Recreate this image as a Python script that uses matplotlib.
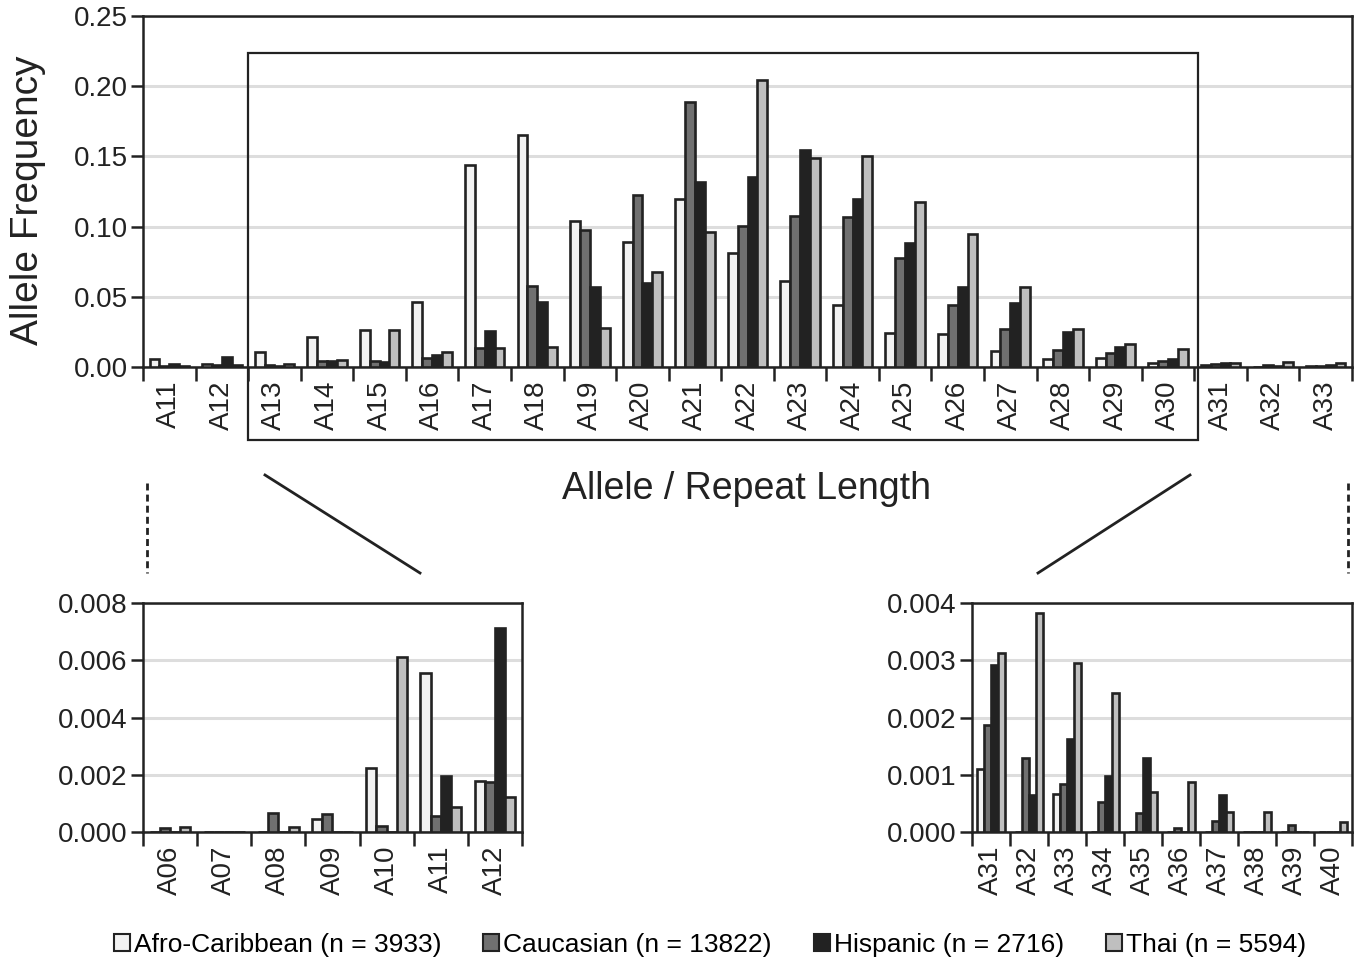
import matplotlib
matplotlib.use("Agg")
import matplotlib.pyplot as plt
import numpy as np
from matplotlib.patches import Rectangle, Patch
from matplotlib.lines import Line2D

plt.rcParams['font.family'] = ['Liberation Sans', 'DejaVu Sans']

# ---------------- data ----------------
series_names = ["Afro-Caribbean (n = 3933)", "Caucasian (n = 13822)",
                "Hispanic (n = 2716)", "Thai (n = 5594)"]
series_colors = ["#f2f2f2", "#707070", "#222222", "#bfbfbf"]

main_alleles = ["A11", "A12", "A13", "A14", "A15", "A16", "A17", "A18", "A19", "A20",
                "A21", "A22", "A23", "A24", "A25", "A26", "A27", "A28", "A29", "A30",
                "A31", "A32", "A33"]
afro_main = [0.0055, 0.0018, 0.0109, 0.0214, 0.026, 0.046, 0.1438, 0.165, 0.1039, 0.0887,
             0.1198, 0.0811, 0.0613, 0.0445, 0.024, 0.0233, 0.0114, 0.006, 0.0064, 0.003,
             0.0011, 0.0, 0.00067]
cauc_main = [0.0006, 0.0017, 0.0017, 0.004, 0.004, 0.0066, 0.0133, 0.0578, 0.0977, 0.1227,
             0.189, 0.1006, 0.1074, 0.1065, 0.0773, 0.044, 0.0273, 0.012, 0.010, 0.0043,
             0.00187, 0.00129, 0.00084]
hisp_main = [0.00196, 0.00714, 0.0005, 0.0045, 0.0036, 0.0083, 0.0257, 0.0464, 0.057, 0.0597,
             0.132, 0.1355, 0.1548, 0.12, 0.088, 0.057, 0.0454, 0.025, 0.0145, 0.0055,
             0.00292, 0.00065, 0.00162]
thai_main = [0.00088, 0.00121, 0.0024, 0.0052, 0.026, 0.0109, 0.0133, 0.0145, 0.0278, 0.0675,
             0.0965, 0.2047, 0.1488, 0.15, 0.1177, 0.0946, 0.057, 0.0269, 0.0164, 0.013,
             0.00313, 0.00382, 0.00296]

low_alleles = ["A06", "A07", "A08", "A09", "A10", "A11", "A12"]
afro_low = [0.0, 0.0, 0.0, 0.00046, 0.00222, 0.00556, 0.00179]
cauc_low = [0.00014, 0.0, 0.00067, 0.00064, 0.0002, 0.00057, 0.00175]
hisp_low = [0.0, 0.0, 0.0, 0.0, 0.0, 0.00196, 0.00714]
thai_low = [0.000175, 0.0, 0.000175, 0.0, 0.0061, 0.00088, 0.00121]

high_alleles = ["A31", "A32", "A33", "A34", "A35", "A36", "A37", "A38", "A39", "A40"]
afro_high = [0.0011, 0.0, 0.00067, 0.0, 0.0, 0.0, 0.0, 0.0, 0.0, 0.0]
cauc_high = [0.00187, 0.00129, 0.00084, 0.00052, 0.00033, 0.00007, 0.0002, 0.0, 0.00013, 0.0]
hisp_high = [0.00292, 0.00065, 0.00162, 0.00098, 0.0013, 0.0, 0.00065, 0.0, 0.0, 0.0]
thai_high = [0.00313, 0.00382, 0.00296, 0.00243, 0.0007, 0.00087, 0.00035, 0.00035, 0.0, 0.00018]

main_yticks = [0.00, 0.05, 0.10, 0.15, 0.20, 0.25]
low_yticks = [0.000, 0.002, 0.004, 0.006, 0.008]
high_yticks = [0.000, 0.001, 0.002, 0.003, 0.004]

# ---------------- figure ----------------
W, H = 1362, 965
fig = plt.figure(figsize=(W / 100, H / 100), dpi=100)

EDGE = "#222222"
TXT = "#222222"


def fx(px):
    return px / W


def fy(py):
    return 1 - py / H


def draw_bars(ax, cats, series, yticks, fmt, barw):
    n = len(cats)
    x = np.arange(n)
    k = len(series)
    for i, (vals, col) in enumerate(zip(series, series_colors)):
        off = (i - (k - 1) / 2) * barw
        ax.bar(x + off, vals, width=barw, color=col, edgecolor=EDGE,
               linewidth=1.9, zorder=3)
    ax.set_xlim(-0.5, n - 0.5)
    ax.set_ylim(yticks[0], yticks[-1])
    ax.set_yticks(yticks)
    ax.set_yticklabels([fmt % v for v in yticks], fontsize=20, color=TXT)
    ax.set_xticks(x)
    ax.set_xticklabels(cats, rotation=90, fontsize=20, color=TXT)
    ax.set_xticks(np.arange(n + 1) - 0.5, minor=True)
    ax.tick_params(axis='x', which='major', length=0, pad=10)
    ax.tick_params(axis='x', which='minor', length=10, width=1.8, color=EDGE, direction='out')
    ax.tick_params(axis='y', which='major', length=9, width=1.8, color=EDGE, direction='out', pad=2)
    ax.yaxis.grid(True, color="#dddddd", linewidth=2.2, zorder=0)
    ax.set_axisbelow(True)
    for s in ax.spines.values():
        s.set_color(EDGE)
        s.set_linewidth(1.8)


# main axes
ax = fig.add_axes([fx(143), fy(367), fx(1352) - fx(143), fy(16) - fy(367)])
draw_bars(ax, main_alleles, [afro_main, cauc_main, hisp_main, thai_main],
          main_yticks, "%.2f", 0.1875)

# zoom box around A13..A30
trans = ax.get_xaxis_transform()
x0 = main_alleles.index("A13") - 0.5
x1 = main_alleles.index("A30") + 0.57
ybot = (367 - 440) / 351
ytop = (367 - 53) / 351
ax.add_patch(Rectangle((x0, ybot), x1 - x0, ytop - ybot, transform=trans,
                       fill=False, edgecolor=EDGE, linewidth=1.6, clip_on=False, zorder=5))

# inset axes
ax_low = fig.add_axes([fx(143), fy(832), fx(522) - fx(143), fy(603) - fy(832)])
draw_bars(ax_low, low_alleles, [afro_low, cauc_low, hisp_low, thai_low],
          low_yticks, "%.3f", 0.1875)

ax_high = fig.add_axes([fx(972), fy(832), fx(1352) - fx(972), fy(603) - fy(832)])
draw_bars(ax_high, high_alleles, [afro_high, cauc_high, hisp_high, thai_high],
          high_yticks, "%.3f", 0.18)

# labels
fig.text(fx(28), fy(200), "Allele Frequency", rotation=90, ha='center', va='center',
         fontsize=28, color=TXT)
fig.text(fx(746), fy(489), "Allele / Repeat Length", ha='center', va='center',
         fontsize=27, color=TXT)

# connector lines
for (xa, ya, xb, yb) in [(265, 475, 420, 573), (1190, 475, 1038, 573)]:
    fig.add_artist(Line2D([fx(xa), fx(xb)], [fy(ya), fy(yb)], color=EDGE,
                          linewidth=2.0, transform=fig.transFigure))
for xv in [147, 1348]:
    fig.add_artist(Line2D([fx(xv), fx(xv)], [fy(483), fy(573)], color=EDGE,
                          linewidth=2.0, linestyle=(0, (2.5, 1.5)), transform=fig.transFigure))

# legend
handles = [Patch(facecolor=c, edgecolor=EDGE, linewidth=1.5) for c in series_colors]
fig.legend(handles, series_names, loc='center', bbox_to_anchor=(fx(710), fy(945)),
           ncol=4, frameon=False, fontsize=19, handlelength=0.6, handleheight=0.6,
           handletextpad=0.15, columnspacing=1.6, borderaxespad=0)

fig.savefig("out.png", dpi=100)
